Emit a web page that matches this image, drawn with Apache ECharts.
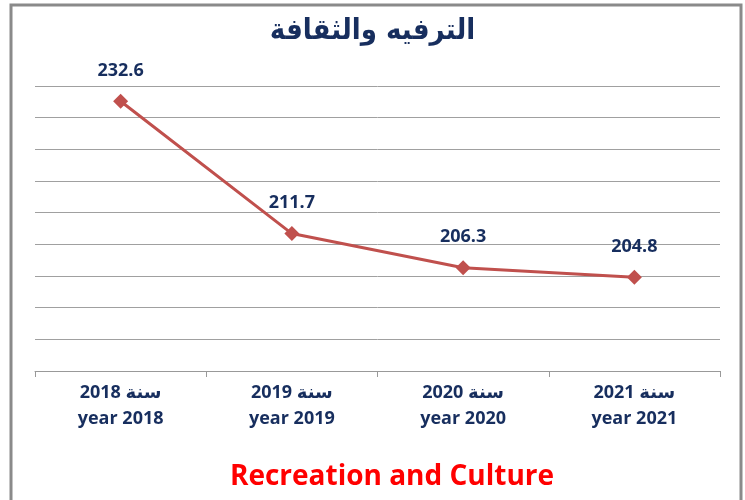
<!DOCTYPE html>
<html>
<head>
<meta charset="utf-8">
<script src="https://cdn.jsdelivr.net/npm/echarts@6/dist/echarts.min.js"></script>
<style>
  html, body { margin: 0; padding: 0; background: #fff; }
  #chart { width: 745px; height: 500px; }
</style>
</head>
<body>
<div id="chart"></div>
<script>
// 数据
const years = ['2018', '2019', '2020', '2021'];
const values = [232.6, 211.7, 206.3, 204.8];
const titleText = 'الترفيه والثقافة';
const footerText = 'Recreation and Culture';

const navy = '#172E5E';
const chart = echarts.init(document.getElementById('chart'));

const option = {
    backgroundColor: '#fff',
    animation: false,
    title: {
        text: titleText,
        left: 'center',
        top: 12,
        textStyle: {
            fontFamily: 'DejaVu Sans Condensed, DejaVu Sans',
            fontSize: 29,
            fontWeight: 'bold',
            color: navy
        }
    },
    grid: {left: 35, right: 25, top: 86, bottom: 129},
    xAxis: {
        type: 'category',
        data: years.map(y => y + ' سنة\nyear ' + y),
        axisLine: {lineStyle: {color: '#999', width: 1}},
        axisTick: {show: true, length: 6, lineStyle: {color: '#999'}},
        axisLabel: {
            margin: 9,
            fontFamily: 'Open Sans, DejaVu Sans',
            fontSize: 18,
            fontWeight: 'bold',
            lineHeight: 26,
            color: navy
        }
    },
    yAxis: {
        type: 'value',
        min: 190,
        max: 235,
        interval: 5,
        axisLabel: {show: false},
        axisLine: {show: false},
        axisTick: {show: false},
        splitLine: {lineStyle: {color: '#a0a0a0', width: 1}}
    },
    series: [
        {
            type: 'line',
            data: values,
            symbol: 'diamond',
            symbolSize: 15,
            lineStyle: {color: '#C0504D', width: 3},
            itemStyle: {color: '#C0504D'},
            label: {
                show: true,
                position: 'top',
                distance: 14,
                formatter: p => p.value.toFixed(1),
                fontFamily: 'Open Sans',
                fontSize: 18,
                fontWeight: 'bold',
                color: navy
            }
        }
    ],
    graphic: [
        {
            type: 'rect',
            shape: {x: 11, y: 5, width: 730, height: 510},
            style: {fill: 'none', stroke: '#8a8a8a', lineWidth: 3},
            silent: true
        },
        {
            type: 'text',
            x: 392,
            y: 477,
            style: {
                text: footerText,
                align: 'center',
                verticalAlign: 'middle',
                fontFamily: 'Open Sans',
                fontSize: 28,
                fontWeight: 'bold',
                fill: '#FF0000'
            }
        }
    ]
};

chart.setOption(option);
</script>
</body>
</html>
